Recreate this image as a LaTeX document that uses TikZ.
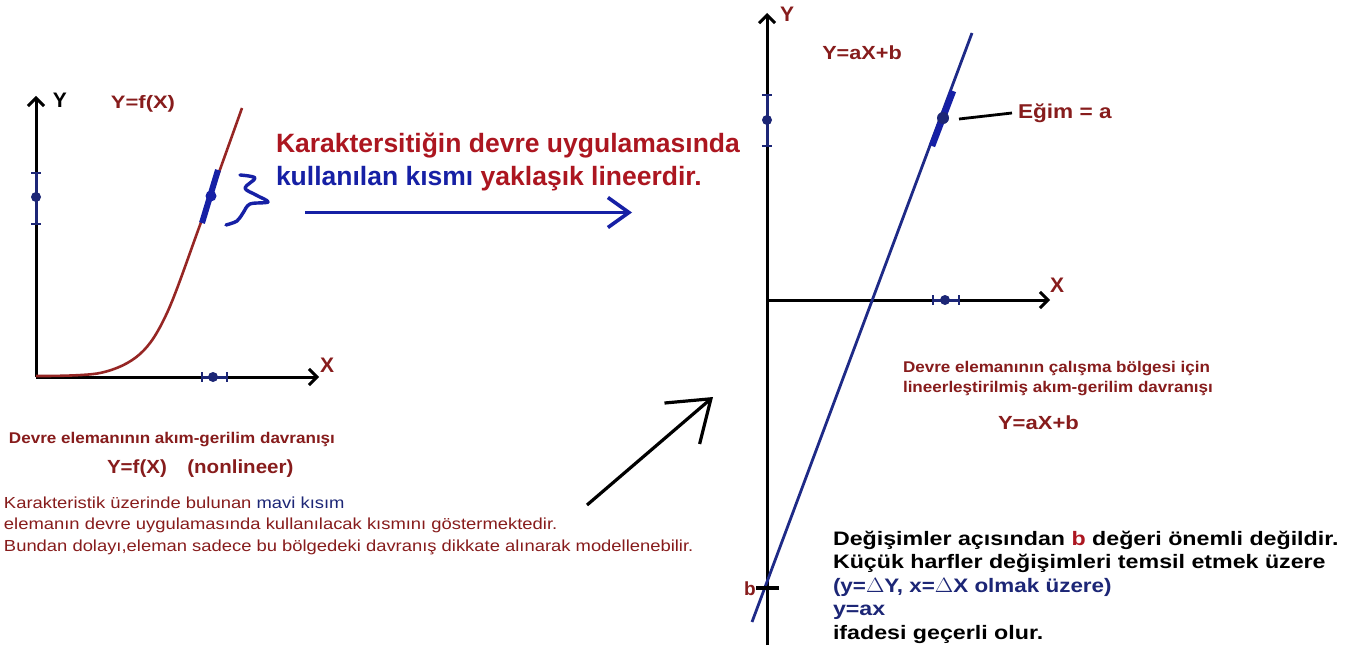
\documentclass[tikz,border=0pt]{standalone}
\usepackage{fontspec}
\usepackage{graphicx}
\setmainfont{Liberation Sans}
\usetikzlibrary{arrows.meta}
\definecolor{dred}{RGB}{135,28,28}
\definecolor{tred}{RGB}{172,22,32}
\definecolor{tblue}{RGB}{22,32,165}
\definecolor{navy}{RGB}{28,38,118}
\definecolor{lnavy}{RGB}{30,42,135}
\definecolor{cred}{RGB}{150,38,36}
\newcommand{\wideX}[2]{\scalebox{#1}[1]{#2}}
\tikzset{
  axis/.style={line width=3pt, black, -{Straight Barb[length=8pt,width=16pt,line width=3pt]}},
  plain/.style={line width=2.8pt, black},
  txt/.style={inner sep=0pt, outer sep=0pt, anchor=base west, align=left},
  lbl/.style={inner sep=0pt, font=\bfseries\fontsize{20}{22}\selectfont},
  mk/.style={line width=3pt, navy},
  tk/.style={line width=2.4pt, navy},
}
\begin{document}
\begin{tikzpicture}[x=1pt,y=-1pt]
\useasboundingbox (0,0) rectangle (1354,650);
\fill[white] (0,0) rectangle (1354,650);

% ---------------- left plot ----------------
\coordinate (O1) at (36,377);
\coordinate (Y1) at (36,96);
\coordinate (X1) at (319,377);
\draw[axis] (O1) -- (Y1);
\draw[axis] (O1) -- (X1);
\node[lbl, black, font=\bfseries\fontsize{21}{23}\selectfont] (ly1) at (60,100) {Y};
\node[lbl, dred, font=\bfseries\fontsize{21}{23}\selectfont] (lx1) at (327,365) {X};
\node[lbl, dred, font=\bfseries\fontsize{18}{20}\selectfont] (f1) at (143,104) {\wideX{1.22}{Y=f(X)}};

\draw[cred, line width=2.6pt] plot[smooth, tension=0.55] coordinates {(36,376) (100,373) (140,354) (167,313) (200,225) (242,108)};
\draw[tblue, line width=6pt] (202,223) -- (218,170);
\fill[tblue] (211,196) circle (5.5);

% markers on left axes
\draw[mk] (36,173) -- (36,224);
\draw[tk] (31,173) -- (41,173);
\draw[tk] (31,224) -- (41,224);
\fill[navy] (36,197) circle (5);
\draw[mk] (202,377) -- (227,377);
\draw[tk] (202,372) -- (202,382);
\draw[tk] (227,372) -- (227,382);
\fill[navy] (213,377) circle (5);

% blue brace
\draw[tblue, line width=3.4pt, line cap=round, line join=round] plot[smooth, tension=0.55] coordinates {(240,175) (255,178) (245,188) (256,195) (268,202) (250,204) (243,213) (237,221) (226,225)};

% blue arrow
\coordinate (ba1) at (305,212.5);
\coordinate (ba2) at (632,212.5);
\draw[tblue, line width=3.6pt, -{Straight Barb[length=21pt,width=30pt,line width=3.6pt]}] (ba1) -- (ba2);

% title
\node[txt, font=\bfseries\fontsize{26.5}{30}\selectfont, tred] (t1) at (276,152) {Karaktersitiğin devre uygulamasında};
\node[txt, font=\bfseries\fontsize{26.5}{30}\selectfont, tred] (t2) at (276,185) {\textcolor{tblue}{kullanılan kısmı} yaklaşık lineerdir.};

% left texts
\node[txt, font=\bfseries\fontsize{15.5}{18}\selectfont, dred] (d1) at (9,443) {\wideX{1.1}{Devre elemanının akım-gerilim davranışı}};
\node[txt, font=\bfseries\fontsize{19}{22}\selectfont, dred] (d2) at (107,473) {\wideX{1.08}{Y=f(X)\hspace{1em}(nonlineer)}};
\node[txt, font=\fontsize{16}{18}\selectfont, dred] (k1) at (4,508) {\wideX{1.15}{Karakteristik üzerinde bulunan \textcolor{navy}{mavi kısım}}};
\node[txt, font=\fontsize{16}{18}\selectfont, dred] (k2) at (4,529) {\wideX{1.15}{elemanın devre uygulamasında kullanılacak kısmını göstermektedir.}};
\node[txt, font=\fontsize{16}{18}\selectfont, dred] (k3) at (4,551) {\wideX{1.15}{Bundan dolayı,eleman sadece bu bölgedeki davranış dikkate alınarak modellenebilir.}};

% black arrow
\coordinate (ka1) at (587,505);
\coordinate (ka2) at (713,397);
\draw[black, line width=3.2pt, -{Straight Barb[length=38pt,width=54pt,line width=3.2pt]}] (ka1) -- (ka2);

% ---------------- right plot ----------------
\coordinate (B2) at (767,645);
\coordinate (Y2) at (767,13);
\coordinate (O2) at (767,300);
\coordinate (X2) at (1050,300);
\draw[axis] (B2) -- (Y2);
\draw[axis] (O2) -- (X2);
\node[lbl, dred, font=\bfseries\fontsize{21}{23}\selectfont] (ly2) at (787,14) {Y};
\node[lbl, dred, font=\bfseries\fontsize{21}{23}\selectfont] (lx2) at (1057,285) {X};
\node[lbl, dred, font=\bfseries\fontsize{19}{21}\selectfont] (f2) at (862,53) {\wideX{1.14}{Y=aX+b}};

\coordinate (L1) at (752,622);
\coordinate (L2) at (972,33);
\draw[lnavy, line width=2.8pt] (L1) -- (L2);
\draw[tblue, line width=6.5pt] (932,146) -- (953,91);
\coordinate (dot2) at (943,118);
\fill[navy] (dot2) circle (6);
\coordinate (pe) at (1012,113);
\node[txt, anchor=west, font=\bfseries\fontsize{20}{22}\selectfont, dred] (eg) at (1018,113) {\wideX{1.13}{Eğim = a}};
\draw[plain] (959,119) -- (pe);

\draw[mk] (767,95) -- (767,146);
\draw[tk] (762,95) -- (772,95);
\draw[tk] (762,146) -- (772,146);
\fill[navy] (767,120) circle (5);
\draw[mk] (933,300) -- (959,300);
\draw[tk] (933,295) -- (933,305);
\draw[tk] (959,295) -- (959,305);
\fill[navy] (945,300) circle (5);

\coordinate (bt1) at (756,588);
\coordinate (bt2) at (779,588);
\draw[line width=3.2pt, black] (bt1) -- (bt2);
\node[lbl, dred, anchor=east, font=\bfseries\fontsize{19}{21}\selectfont] (bl) at (756,589) {b};

% right texts
\node[txt, font=\bfseries\fontsize{15.5}{18}\selectfont, dred] (r1) at (903,372) {\wideX{1.1}{Devre elemanının çalışma bölgesi için}};
\node[txt, font=\bfseries\fontsize{15.5}{18}\selectfont, dred] (r2) at (903,392) {\wideX{1.1}{lineerleştirilmiş akım-gerilim davranışı}};
\node[txt, font=\bfseries\fontsize{19}{21}\selectfont, dred] (r3) at (998,429) {\wideX{1.16}{Y=aX+b}};

\node[txt, font=\bfseries\fontsize{19.5}{23}\selectfont, black] (c1) at (833,545) {\wideX{1.19}{Değişimler açısından \textcolor{tred}{b} değeri önemli değildir.}};
\node[txt, font=\bfseries\fontsize{19.5}{23}\selectfont, black] (c2) at (833,568.5) {\wideX{1.19}{Küçük harfler değişimleri temsil etmek üzere}};
\node[txt, font=\bfseries\fontsize{19.5}{23}\selectfont, navy] (c3) at (833,592) {\wideX{1.15}{(y=$\Delta$Y, x=$\Delta$X olmak üzere)}};
\node[txt, font=\bfseries\fontsize{19.5}{23}\selectfont, navy] (c4) at (833,615.5) {\wideX{1.19}{y=ax}};
\node[txt, font=\bfseries\fontsize{19.5}{23}\selectfont, black] (c5) at (833,639) {\wideX{1.19}{ifadesi geçerli olur.}};
\end{tikzpicture}
\end{document}
